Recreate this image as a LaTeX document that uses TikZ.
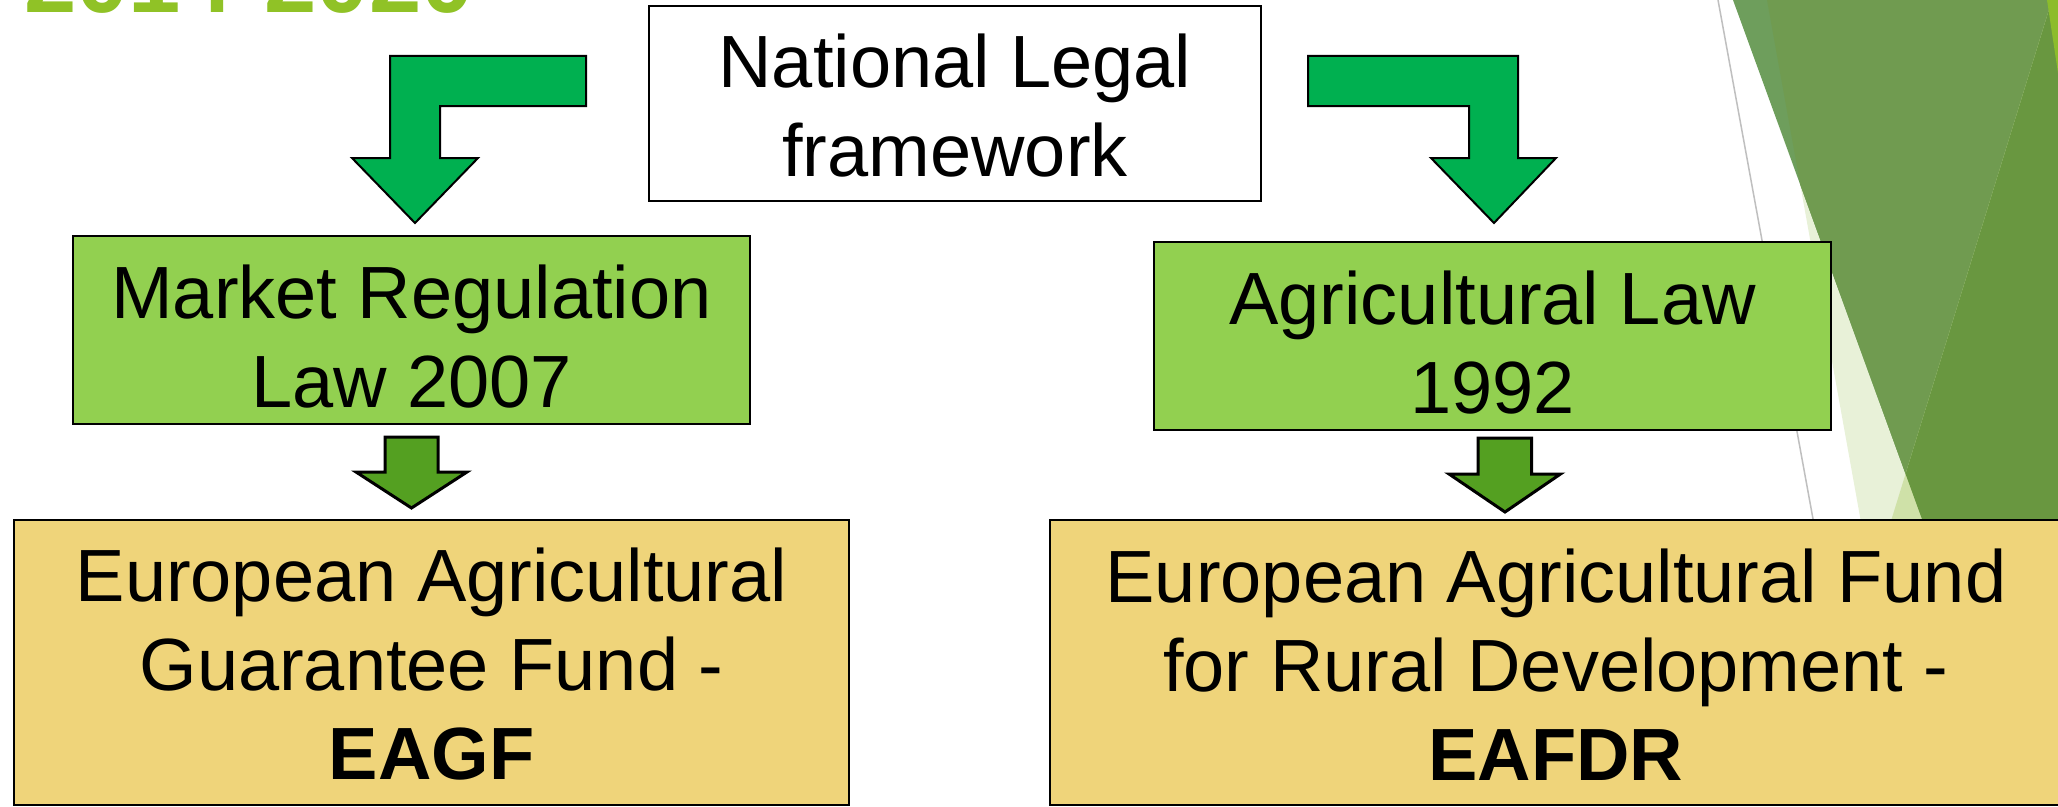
\documentclass[tikz,border=0pt]{standalone}
\usepackage{fontspec}
\setmainfont{Liberation Sans}
\definecolor{titlegreen}{HTML}{90C226}
\definecolor{bentgreen}{HTML}{00B050}
\definecolor{smallgreen}{HTML}{54A021}
\definecolor{boxgreen}{HTML}{92D050}
\definecolor{boxyellow}{HTML}{EFD47A}
\definecolor{decolight}{HTML}{E8F1D8}
\definecolor{decostripe}{HTML}{6E9E5C}
\definecolor{decomain}{HTML}{709B50}
\definecolor{decodark}{HTML}{699740}
\definecolor{decooverlap}{HTML}{CFE1A8}
\definecolor{decobright}{HTML}{8CBC2C}
\definecolor{decoline}{HTML}{BFBFBF}
\begin{document}
\begin{tikzpicture}[x=1bp,y=-1bp,
  boxshape/.style={draw=black, line width=2bp, inner sep=0pt, outer sep=0pt},
  txt/.style={font=\fontsize{74bp}{89bp}\selectfont, align=center, inner sep=0pt, text=black},
  bentarrow/.style={fill=bentgreen, draw=black, line width=2bp, line join=miter},
  smallarrow/.style={fill=smallgreen, draw=black, line width=3bp, line join=miter}]
\useasboundingbox (0,0) rectangle (2058,807);
\fill[white] (0,0) rectangle (2058,807);
% decoration on the right
\fill[decolight] (1767,0) -- (2058,0) -- (2058,520) -- (1860.6,520) -- cycle;
\fill[decostripe] (1733,0) -- (2058,0) -- (2058,520) -- (1922.3,520) -- cycle;
\begin{scope}
  \clip (1767,0) -- (2058,0) -- (2058,520) -- (1860.6,520) -- cycle;
  \fill[decomain] (1733,0) -- (2058,0) -- (2058,520) -- (1922.3,520) -- cycle;
\end{scope}
\fill[decooverlap] (2052,0) -- (2058,0) -- (2058,520) -- (1891.3,520) -- cycle;
\begin{scope}
  \clip (1733,0) -- (2058,0) -- (2058,520) -- (1922.3,520) -- cycle;
  \fill[decodark] (2052,0) -- (2058,0) -- (2058,520) -- (1891.3,520) -- cycle;
\end{scope}
\fill[decobright] (2047,0) -- (2058,0) -- (2058,73) -- cycle;
\draw[decoline, line width=1.5bp] (1718,0) -- (1813.2,520);
% title (cut off at the top)
\node[font=\fontsize{94bp}{110bp}\selectfont\bfseries, text=titlegreen, anchor=base west, inner sep=0pt] (title) at (24,12.5) {2014-2020};
% boxes
\node[boxshape, fill=white, minimum width=612bp, minimum height=195bp] (nlf) at (955,103.5) {};
\node[txt] (nlft) at (955,105.9) {National Legal\\framework};
\node[boxshape, fill=boxgreen, minimum width=677bp, minimum height=188bp] (mr) at (411.5,330) {};
\node[txt] (mrt) at (411.5,336.9) {Market Regulation\\Law 2007};
\node[boxshape, fill=boxgreen, minimum width=677bp, minimum height=188bp] (al) at (1492.5,336) {};
\node[txt] (alt) at (1492.5,342.4) {Agricultural Law\\1992};
\node[boxshape, fill=boxyellow, minimum width=835bp, minimum height=285bp] (eagf) at (431.5,662.5) {};
\node[txt] (eagft) at (431.5,664.4) {European Agricultural\\Guarantee Fund -\\\textbf{EAGF}};
\node[boxshape, fill=boxyellow, minimum width=1012bp, minimum height=285bp] (eafdr) at (1556,662.5) {};
\node[txt] (eafdrt) at (1556,664.4) {European Agricultural Fund\\for Rural Development -\\\textbf{EAFDR}};
% bent arrows
\draw[bentarrow] (586,56) -- (390,56) -- (390,158) -- (352,158) -- (415,223) -- (478,158) -- (440,158) -- (440,106) -- (586,106) -- cycle;
\draw[bentarrow] (1308,56) -- (1518,56) -- (1518,158) -- (1556,158) -- (1494,223) -- (1431,158) -- (1469,158) -- (1469,106) -- (1308,106) -- cycle;
% small arrows
\draw[smallarrow] (385,437) -- (438,437) -- (438,472) -- (467,472) -- (411.5,508) -- (356,472) -- (385,472) -- cycle;
\draw[smallarrow] (1478,438) -- (1531.5,438) -- (1531.5,474) -- (1560.5,474) -- (1505,512) -- (1449,474) -- (1478,474) -- cycle;
\end{tikzpicture}
\end{document}
